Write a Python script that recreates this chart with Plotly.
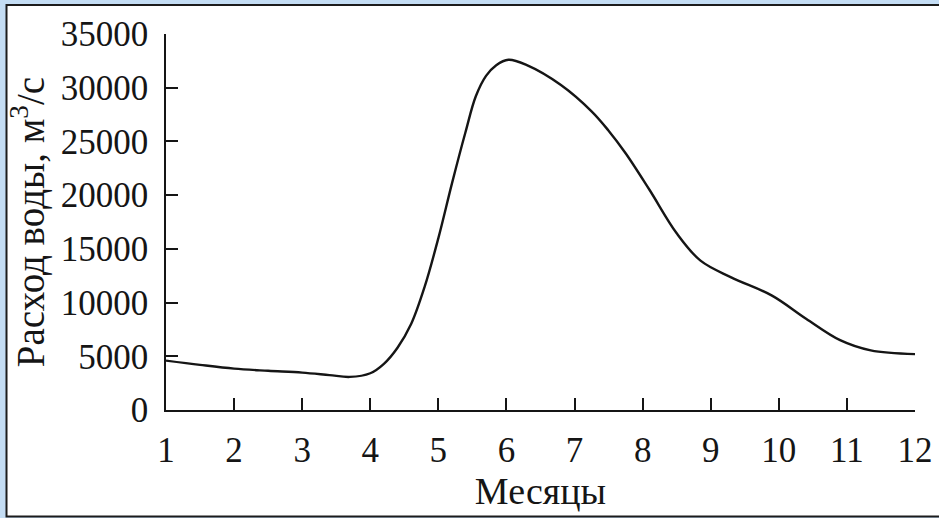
import plotly.graph_objects as go

# Data
months = [1, 1.5, 2, 2.5, 3, 3.4, 3.7, 4.0, 4.2, 4.4, 4.6, 4.8, 5.0, 5.2, 5.4, 5.55,
          5.7, 5.85, 6.03, 6.3, 6.8, 7.25, 7.5, 7.75, 8.1, 8.5, 8.85, 9.3, 9.9, 10.4,
          10.9, 11.35, 12]
flow = [4600, 4200, 3850, 3650, 3480, 3250, 3080, 3420, 4300, 5800, 8000, 11500, 16000,
        21100, 25900, 29200, 31100, 32100, 32600, 32100, 30250, 27800, 26000, 23900,
        20500, 16450, 13900, 12350, 10650, 8500, 6500, 5550, 5200]

x_ticks = list(range(1, 13))
y_ticks = [0, 5000, 10000, 15000, 20000, 25000, 30000, 35000]

x_title = "Месяцы"
y_title = "Расход воды, м<sup>3</sup>/с"

FONT = "Liberation Serif"
INK = "#151515"

fig = go.Figure()
fig.add_trace(go.Scatter(
    x=months, y=flow, mode="lines",
    line=dict(color=INK, width=2.4, shape="spline", smoothing=1.0),
    hoverinfo="skip", showlegend=False,
))

L, R, T, B = 166, 24, 34, 108
W, H = 939, 518
pw, ph = W - L - R, H - T - B

def px_x(p):
    return (p - L) / pw

def px_y(p):
    return (H - B - p) / ph

fig.add_shape(type="rect", xref="paper", yref="paper",
              x0=px_x(6.5), x1=px_x(W + 10), y0=px_y(516.5), y1=px_y(5),
              line=dict(color="#1c1c1c", width=2), fillcolor="white", layer="below")

axis_common = dict(
    showgrid=False, zeroline=False, showline=True, linecolor=INK, linewidth=1.6,
    ticks="inside", ticklen=12, tickwidth=1.6, tickcolor=INK, automargin=False,
)

fig.update_layout(
    width=W, height=H,
    margin=dict(l=L, r=R, t=T, b=B),
    paper_bgcolor="#c4ddf4",
    plot_bgcolor="rgba(0,0,0,0)",
    font=dict(family=FONT, color=INK),
    xaxis=dict(range=[1, 12], tickvals=x_ticks, ticktext=[str(v) for v in x_ticks],
               ticklabelstandoff=8, tickfont=dict(family=FONT, size=35, color=INK),
               title=dict(text=x_title, font=dict(family=FONT, size=38, color=INK), standoff=2),
               **axis_common),
    yaxis=dict(range=[0, 35000], tickvals=y_ticks, ticktext=[str(v) for v in y_ticks],
               ticklabelstandoff=9, tickfont=dict(family=FONT, size=35, color=INK),
               title=dict(text=y_title, font=dict(family=FONT, size=39, color=INK), standoff=4),
               **axis_common),
)

fig.write_html("out.html")
